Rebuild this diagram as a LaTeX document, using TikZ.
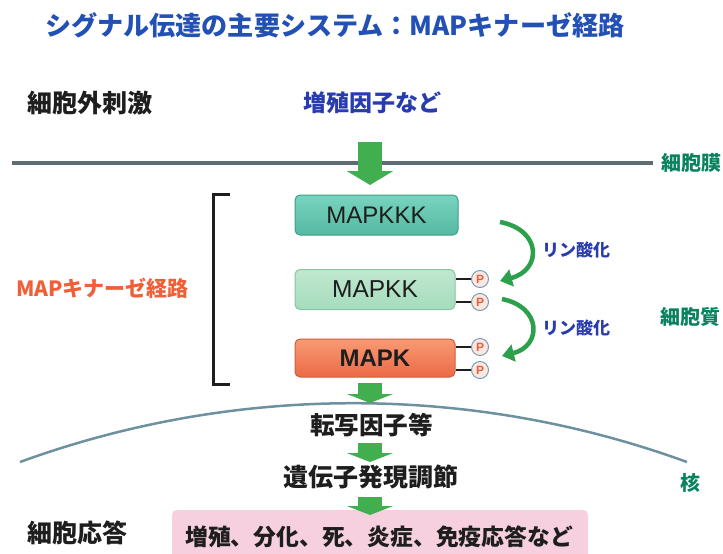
\documentclass[tikz,border=0pt]{standalone}
\usepackage{fontspec}
\setmainfont{Liberation Sans}
\newfontfamily\jp{Noto Sans CJK JP}
\usetikzlibrary{arrows.meta}
\definecolor{titleblue}{RGB}{35,80,180}
\definecolor{labelblue}{RGB}{40,60,175}
\definecolor{labelgreen}{RGB}{10,130,95}
\definecolor{labelorange}{RGB}{240,95,55}
\definecolor{txtblack}{RGB}{30,30,30}
\definecolor{membrane}{RGB}{95,108,115}
\definecolor{nucline}{RGB}{110,145,160}
\definecolor{arrowgreen}{RGB}{65,175,80}
\definecolor{curvegreen}{RGB}{45,160,75}
\definecolor{pinkfill}{RGB}{246,208,222}
\definecolor{pcircle}{RGB}{252,232,222}
\definecolor{pborder}{RGB}{110,150,180}
\definecolor{pletter}{RGB}{225,95,70}
\definecolor{kkkdraw}{RGB}{60,160,140}
\definecolor{kkktop}{RGB}{120,212,190}
\definecolor{kkkbot}{RGB}{85,185,162}
\definecolor{kkdraw}{RGB}{135,195,165}
\definecolor{kktop}{RGB}{192,232,208}
\definecolor{kkbot}{RGB}{165,220,188}
\definecolor{kdraw}{RGB}{205,95,60}
\definecolor{ktop}{RGB}{247,155,115}
\definecolor{kbot}{RGB}{236,105,70}
\tikzset{
  jp/.style={inner sep=0pt, font=\jp\bfseries\fontsize{#1}{#1}\selectfont},
  kinase/.style={rounded corners=5pt, draw, line width=1pt, minimum width=160pt,
    minimum height=40pt, inner sep=0pt, text=txtblack},
  pdot/.style={circle, draw=pborder, line width=0.9pt, fill=pcircle, minimum size=17pt,
    inner sep=0pt, text=pletter, font=\bfseries\fontsize{12}{12}\selectfont},
  blockarrow/.style={draw=arrowgreen, line width=24pt, -{Triangle[length=#1,width=46pt]}},
  curvearrow/.style={draw=curvegreen, line width=4.5pt, -{Triangle[length=12pt,width=17pt]}},
  stub/.style={draw=txtblack, line width=1.6pt}
}
\begin{document}
\begin{tikzpicture}[x=1pt,y=-1pt]
\useasboundingbox (0,0) rectangle (723,554);

% title
\node[jp=26.1, anchor=west, text=titleblue] (title) at (45,25) {シグナル伝達の主要システム：MAPキナーゼ経路};

% top labels
\node[jp=25, anchor=west, text=txtblack] (extra) at (27,103) {細胞外刺激};
\node[jp=23, text=labelblue] (growth) at (372,103) {増殖因子など};

% membrane
\coordinate (memL) at (12,163);
\coordinate (memR) at (653,163);
\draw[membrane, line width=4pt] (memL) -- (memR);
\node[jp=20, anchor=west, text=labelgreen] (memlabel) at (661,163) {細胞膜};

% kinase boxes
\node[kinase, minimum width=163pt, draw=kkkdraw, top color=kkktop, bottom color=kkkbot,
  font=\fontsize{24}{24}\selectfont] (kkk) at (376.5,215) {MAPKKK};
\node[kinase, draw=kkdraw, top color=kktop, bottom color=kkbot,
  font=\fontsize{24.5}{24.5}\selectfont] (kk) at (375,289.5) {MAPKK};
\node[kinase, minimum height=38pt, draw=kdraw, top color=ktop, bottom color=kbot,
  font=\bfseries\fontsize{24}{24}\selectfont] (k) at (375,358) {MAPK};

% phosphate groups
\node[pdot] (p1) at (480,279) {P};
\node[pdot] (p2) at (480,302) {P};
\node[pdot] (p3) at (480,347) {P};
\node[pdot] (p4) at (480,370) {P};
\draw[stub] (kk.east |- p1) -- (p1);
\draw[stub] (kk.east |- p2) -- (p2);
\draw[stub] (k.east |- p3) -- (p3);
\draw[stub] (k.east |- p4) -- (p4);

% phosphorylation arrows
\coordinate (c1s) at (500,222);
\coordinate (c1e) at (500,281);
\coordinate (c2s) at (502,299);
\coordinate (c2e) at (502,356);
\draw[curvearrow] (c1s) .. controls (542,230) and (542,270) .. (c1e);
\draw[curvearrow] (c2s) .. controls (542,307) and (542,346) .. (c2e);
\node[jp=17, text=labelblue] (ph1) at (576,250) {リン酸化};
\node[jp=17, text=labelblue] (ph2) at (576,328) {リン酸化};
\node[jp=20, anchor=west, text=labelgreen] (cyto) at (660,317) {細胞質};

% bracket
\coordinate (brTop) at (230,194);
\coordinate (brBot) at (230,384);
\draw[txtblack, line width=3pt] (brTop) -- (213,194) -- (213,384) -- (brBot);
\node[jp=21, anchor=west, text=labelorange] (mapkpath) at (16,288) {MAPキナーゼ経路};

% nucleus
\coordinate (nucL) at (20,462);
\draw[nucline, line width=2.5pt] (nucL) arc[start angle=-110, end angle=-70, radius=975];
\node[jp=20, text=labelgreen] (nuc) at (690,483) {核};

% lower cascade
\node[jp=24.6, text=txtblack] (tf) at (371.5,425) {転写因子等};
\node[jp=25, text=txtblack] (gene) at (370.5,477) {遺伝子発現調節};
\node[jp=25, anchor=west, text=txtblack] (resp) at (27,533) {細胞応答};
\fill[pinkfill, rounded corners=5pt] (172,510) rectangle (588,560);
\node[jp=22.8, text=txtblack] (out) at (379,537) {増殖、分化、死、炎症、免疫応答など};

% block arrows
\coordinate (a1s) at (370,142);
\coordinate (a1e) at (370,185);
\coordinate (a2s) at (370,383);
\coordinate (a2e) at (370,403);
\coordinate (a3s) at (370,443);
\coordinate (a3e) at (370,462);
\coordinate (a4s) at (370,497);
\coordinate (a4e) at (370,515);
\draw[blockarrow=14pt] (a1s) -- (a1e);
\draw[blockarrow=9pt] (a2s) -- (a2e);
\draw[blockarrow=9pt] (a3s) -- (a3e);
\draw[blockarrow=9pt] (a4s) -- (a4e);
\end{tikzpicture}
\end{document}
